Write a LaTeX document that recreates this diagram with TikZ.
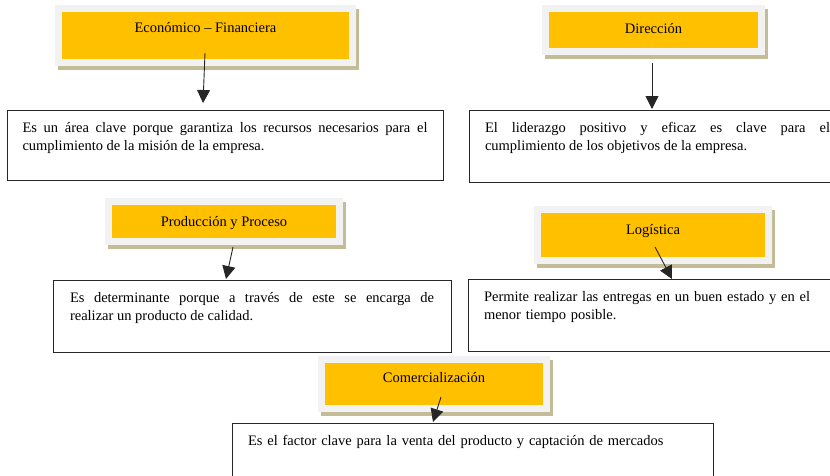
\documentclass[tikz,border=0pt]{standalone}
\usepackage{fontspec}
\setmainfont{Liberation Serif}
\usepackage{tikz}
\usetikzlibrary{arrows.meta,
                positioning}
\definecolor{areagold}{HTML}{FFC000}
\definecolor{areaframe}{HTML}{F2F2F2}
\definecolor{areashadow}{HTML}{C4BC96}
\tikzset{
	area/.style={fill=areagold, draw=areaframe, line width=7pt, outer sep=0pt,
		text height=10pt, text depth=#1,
		preaction={draw=areashadow, fill=areashadow,
			transform canvas={xshift=2.5pt, yshift=-4pt}}},
	note/.style={draw=black!85, line width=0.9pt, outer sep=0pt, align=justify,
		inner ysep=4pt, text height=18pt, text depth=#1},
	link/.style={draw=black!85, line width=0.9pt,
		-{Triangle[length=13pt, width=13pt]}}
}

\begin{document}
\begin{tikzpicture}[
		x=1pt, y=-1pt,
		font=\fontsize{14.5pt}{18pt}\selectfont
	]
		\useasboundingbox (0,0) rectangle (830,475);
		\clip (0,0) rectangle (830,475);
		\node [area=16pt, minimum width=294pt, minimum height=54pt] (econ) at (205.5,35.5) {Económico – Financiera};
		\node [area=3pt, minimum width=216pt, minimum height=43pt] (dir) at (653.5,30) {Dirección};
		\node [area=0pt, minimum width=231pt, minimum height=40pt] (prod) at (224,221.5) {Producción y Proceso};
		\node [area=11pt, minimum width=231pt, minimum height=51pt] (log) at (653,235) {Logística};
		\node [area=13pt, minimum width=225pt, minimum height=49pt] (com) at (434,384) {Comercialización};
		\node [note=44pt, text width=405pt, inner xsep=15.5pt] (econtxt) at (225,145)
			{Es un área clave porque garantiza los recursos necesarios para el\linebreak cumplimiento de la misión de la empresa.};
		\node [note=46pt, text width=345pt, inner xsep=16pt] (dirtxt) at (657.5,146)
			{El liderazgo positivo y eficaz es clave para el\linebreak cumplimiento de los objetivos de la empresa.};
		\node [note=46pt, text width=364pt, inner xsep=17pt] (prodtxt) at (252,316)
			{Es determinante porque a través de este se encarga de\linebreak realizar un producto de calidad.};
		\node [note=46pt, text width=345pt, inner xsep=16pt, align=left] (logtxt) at (656.5,315)
			{Permite realizar las entregas en un buen estado y en el\\ menor tiempo posible.};
		\node [note=46pt, text width=449pt, inner xsep=16pt, align=left] (comtxt) at (472.5,459)
			{Es el factor clave para la venta del producto y captación de mercados};
		\path
			([xshift=-0.5pt, yshift=9.5pt]econ.south) edge[link] ([xshift=-22pt, yshift=7pt]econtxt.north)
			([xshift=-1.5pt, yshift=-11.5pt]dir.south) edge[link] ([xshift=-5.5pt, yshift=1pt]dirtxt.north)
			([xshift=9pt, yshift=-5.5pt]prod.south) edge[link] ([xshift=-26pt, yshift=1pt]prodtxt.north)
			([xshift=2pt, yshift=13.5pt]log.south) edge[link] ([xshift=15.5pt]logtxt.north)
			([xshift=7pt, yshift=11.5pt]com.south) edge[link] ([xshift=-39.5pt, yshift=1pt]comtxt.north);
	\end{tikzpicture}
\end{document}
